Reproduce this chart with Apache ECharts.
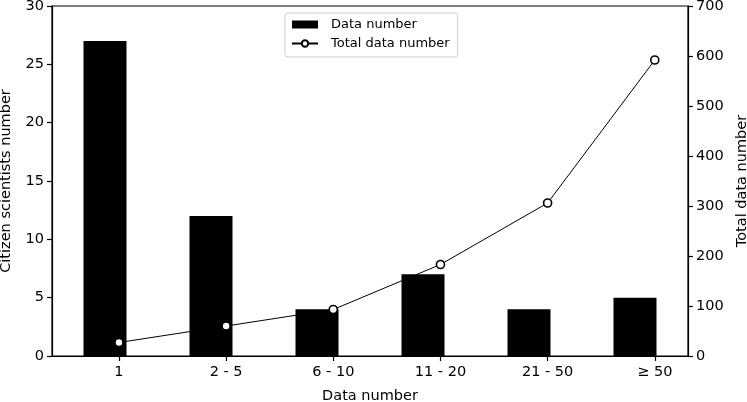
<!DOCTYPE html>
<html>
<head>
<meta charset="utf-8">
<script src="https://cdn.jsdelivr.net/npm/echarts@6/dist/echarts.min.js"></script>
<style>
  html, body { margin: 0; padding: 0; background: #fff; }
  #chart { width: 747px; height: 402px; }
</style>
</head>
<body>
<div id="chart"></div>
<script>
// categories and values
const categories = ['1', '2 - 5', '6 - 10', '11 - 20', '21 - 50', '≥ 50']
const citizenCounts = [27, 12, 4, 7, 4, 5]
const totalData = [27, 60, 93, 183, 306, 592]
const leftTicks = [0, 5, 10, 15, 20, 25, 30]
const rightTicks = [0, 100, 200, 300, 400, 500, 600, 700]

const font = 'DejaVu Sans'
const positions = categories.map((c, i) => i)
const axisText = {fontFamily: font, fontSize: 14.5, color: '#000'}

const chart = echarts.init(document.getElementById('chart'))

const option = {
  animation: false,
  textStyle: {fontFamily: font},
  grid: {
    left: 52,
    right: 59,
    top: 6,
    bottom: 46,
    outerBoundsMode: 'none',
    containLabel: false,
    show: true,
    borderColor: '#000',
    borderWidth: 1.2
  },
  legend: {
    orient: 'vertical',
    left: 285,
    top: 13,
    padding: [4, 8, 6, 6],
    itemGap: 4,
    itemWidth: 26,
    itemHeight: 8,
    borderColor: '#cccccc',
    borderWidth: 1,
    borderRadius: 3,
    textStyle: {fontFamily: font, fontSize: 13, color: '#000', lineHeight: 15, padding: [0, 0, 0, 8]},
    data: [
      {name: 'Data number', icon: 'rect'},
      {name: 'Total data number'}
    ]
  },
  xAxis: [
    {
      type: 'category',
      data: categories,
      boundaryGap: true,
      show: false
    },
    {
      type: 'value',
      min: -0.625,
      max: 5.31,
      position: 'bottom',
      name: 'Data number',
      nameLocation: 'middle',
      nameGap: 33,
      nameTextStyle: axisText,
      axisLine: {show: true, onZero: false, lineStyle: {color: '#000', width: 1.2}},
      axisTick: {show: true, length: 5, customValues: positions, lineStyle: {color: '#000', width: 1.2}},
      axisLabel: Object.assign({
        customValues: positions,
        margin: 9,
        formatter: v => categories[Math.round(v)]
      }, axisText),
      splitLine: {show: false}
    }
  ],
  yAxis: [
    {
      type: 'value',
      min: leftTicks[0],
      max: leftTicks[leftTicks.length - 1],
      interval: 5,
      position: 'left',
      name: 'Citizen scientists number',
      nameLocation: 'middle',
      nameGap: 38,
      nameTextStyle: axisText,
      axisLine: {show: true, onZero: false, lineStyle: {color: '#000', width: 1.2}},
      axisTick: {show: true, length: 5, lineStyle: {color: '#000', width: 1.2}},
      axisLabel: Object.assign({margin: 8}, axisText),
      splitLine: {show: false}
    },
    {
      type: 'value',
      min: rightTicks[0],
      max: rightTicks[rightTicks.length - 1],
      interval: 100,
      position: 'right',
      name: 'Total data number',
      nameLocation: 'middle',
      nameGap: 47,
      nameTextStyle: axisText,
      axisLine: {show: true, onZero: false, lineStyle: {color: '#000', width: 1.2}},
      axisTick: {show: true, length: 5, lineStyle: {color: '#000', width: 1.2}},
      axisLabel: Object.assign({margin: 8}, axisText),
      splitLine: {show: false}
    }
  ],
  series: [
    {
      name: 'Data number',
      type: 'bar',
      xAxisIndex: 0,
      yAxisIndex: 0,
      barWidth: 43,
      itemStyle: {color: '#000'},
      data: citizenCounts
    },
    {
      name: 'Total data number',
      type: 'line',
      xAxisIndex: 1,
      yAxisIndex: 1,
      symbol: 'circle',
      symbolSize: 8,
      z: 5,
      lineStyle: {color: '#000', width: 1},
      itemStyle: {color: '#fff', borderColor: '#000', borderWidth: 1.6},
      data: totalData.map((v, i) => [positions[i], v])
    }
  ]
}

chart.setOption(option)
</script>
</body>
</html>
